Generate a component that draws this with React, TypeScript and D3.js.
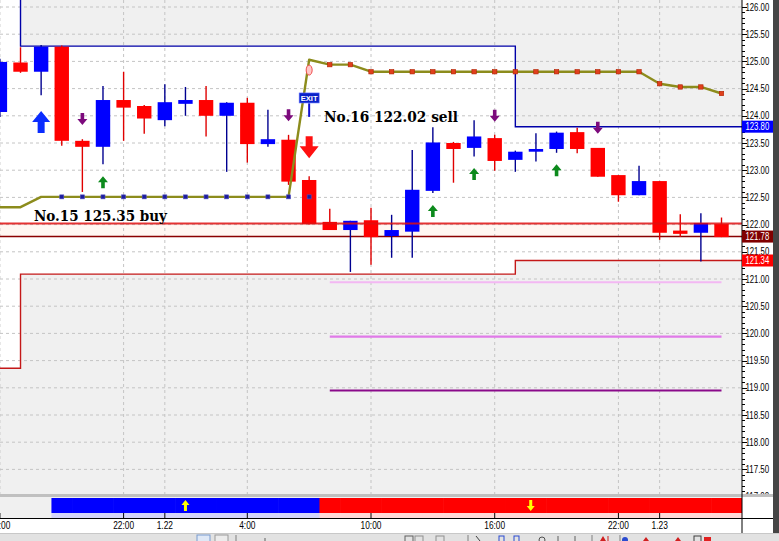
import React from 'react';
import * as d3 from 'd3';

// ---------- data ----------
const barIndex = d3.range(-1, 35);
const opens = [124.07,124.98,124.81,125.27,123.54,123.43,124.29,124.18,123.92,124.22,124.29,124.00,124.24,123.48,123.56,122.82,122.05,121.90,122.08,121.79,121.87,122.62,123.50,123.41,123.59,123.19,123.34,123.39,123.70,123.41,122.91,122.54,122.80,121.89,121.85,122.01];
const highs = [125.05,125.26,125.30,125.29,123.57,124.55,124.81,124.20,124.58,124.53,124.55,124.25,124.33,124.11,123.65,122.89,122.29,122.07,122.31,122.18,123.37,123.79,123.52,123.92,123.65,123.36,123.68,123.71,123.78,123.41,122.91,123.08,122.80,122.19,122.21,122.13];
const lows = [123.98,124.79,124.38,123.45,122.60,123.11,123.54,123.67,123.81,124.00,123.62,122.97,123.14,123.43,122.73,122.00,121.90,121.13,121.26,121.39,121.39,122.58,122.77,123.25,122.99,122.97,123.16,123.32,123.31,122.88,122.42,122.54,121.72,121.77,121.32,121.77];
const closes = [124.99,124.81,125.27,123.54,123.43,124.29,124.15,123.95,124.25,124.29,124.00,124.24,123.48,123.57,122.79,122.01,121.90,122.07,121.77,121.90,122.64,123.51,123.39,123.62,123.17,123.34,123.39,123.69,123.39,122.88,122.54,122.80,121.85,121.83,122.03,121.77];

// trailing stop line (olive) per bar
const stopLine = [122.32,122.32,122.51,122.51,122.51,122.51,122.51,122.51,122.51,122.51,122.51,122.51,122.51,122.51,122.51,125.03,124.94,124.94,124.81,124.81,124.81,124.81,124.81,124.81,124.81,124.81,124.81,124.81,124.81,124.81,124.81,124.81,124.59,124.53,124.53,124.41];
const lowerDotIndex = d3.range(2, 15);
const lowerDotLevel = 122.51;
const upperDotIndex = d3.range(15, 35);

// channel step lines (index -1..35)
const bandIndex = d3.range(-1, 36);
const upperBand = [
  126.6,
  125.28,125.28,125.28,125.28,125.28,125.28,125.28,125.28,125.28,125.28,125.28,125.28,
  125.28,125.28,125.28,125.28,125.28,125.28,125.28,125.28,125.28,125.28,125.28,125.28,
  123.80,123.80,123.80,123.80,123.80,123.80,123.80,123.80,123.80,123.80,123.80,123.80,
];
const lowerBand = [
  119.36,
  121.09,121.09,121.09,121.09,121.09,121.09,121.09,121.09,121.09,121.09,121.09,121.09,
  121.09,121.09,121.09,121.09,121.09,121.09,121.09,121.09,121.09,121.09,121.09,121.09,
  121.34,121.34,121.34,121.34,121.34,121.34,121.34,121.34,121.34,121.34,121.34,121.34,
];

// horizontal levels
const entryLevel = 122.02;
const exitLevel = 121.78;
const targetLevels = [120.94, 119.94, 118.95];
const targetColors = ['#f3b8f3', '#e07ae8', '#8a0a8a'];
const targetFrom = 15;
const targetTo = 34;

// arrows
const bigUpArrows = [{ i: 1, price: 124.09 }];
const bigDownArrows = [{ i: 14, price: 123.22 }];
const smallDownArrows = [{ i: 3, price: 123.83 }, { i: 13, price: 123.90 }, { i: 23, price: 123.89 }, { i: 28, price: 123.67 }];
const smallUpArrows = [{ i: 4, price: 122.89 }, { i: 20, price: 122.36 }, { i: 22, price: 123.04 }, { i: 26, price: 123.11 }];

// trade annotations
const tradeLabels = [
  { text: 'No.15 125.35 buy', i: 0.65, price: 122.07, len: 133 },
  { text: 'No.16 122.02 sell', i: 14.72, price: 123.89, len: 134 },
];
const exitBar = 14;

// signal panel (index -1..35)
const signalIndex = d3.range(-1, 36);
const signals = [
  0, 0, 0,
  1, 1, 1, 1, 1, 1, 1, 1, 1, 1, 1, 1, 1,
  -1, -1, -1, -1, -1, -1, -1, -1, -1, -1, -1, -1, -1, -1, -1, -1, -1, -1, -1, -1, -1,
];

// axes
const timeTicks = [
  { i: -1, label: '16:00' }, { i: 5, label: '22:00' }, { i: 7, label: '1.22' }, { i: 11, label: '4:00' },
  { i: 17, label: '10:00' }, { i: 23, label: '16:00' }, { i: 29, label: '22:00' }, { i: 31, label: '1.23' },
];
const priceTicks = d3.range(117, 126.01, 0.5);
const minorTicks = d3.range(117, 126.01, 0.1);
const priceTags = [
  { v: 123.80, bg: '#0000ff' },
  { v: 121.78, bg: '#800000' },
  { v: 121.34, bg: '#ff0000' },
];

// ---------- layout ----------
const W = 779, H = 541;
const PR = 742, PB = 494;
const FONT = 'Liberation Sans, Arial, sans-serif';

const txtLen = (s: string, d: number, p: number) =>
  s.split('').reduce((a, c) => a + (/[0-9]/.test(c) ? d : p), 0);

function upArrow(cx: number, tip: number, w: number, h: number, sw: number, hh: number) {
  return `M${cx},${tip} L${cx + w / 2},${tip + hh} L${cx + sw / 2},${tip + hh} L${cx + sw / 2},${tip + h} L${cx - sw / 2},${tip + h} L${cx - sw / 2},${tip + hh} L${cx - w / 2},${tip + hh} Z`;
}
function downArrow(cx: number, tip: number, w: number, h: number, sw: number, hh: number) {
  return `M${cx},${tip} L${cx + w / 2},${tip - hh} L${cx + sw / 2},${tip - hh} L${cx + sw / 2},${tip - h} L${cx - sw / 2},${tip - h} L${cx - sw / 2},${tip - hh} L${cx - w / 2},${tip - hh} Z`;
}

export default function App() {
  const x = d3.scaleLinear().domain([-1, 34]).range([-0.1, 721.5]);
  const y = d3.scaleLinear().domain([117.5, 126]).range([469.4, 7]);
  const step = x(1) - x(0);
  const bw = 14.4;

  const upperArea = d3.area<number>().x((_, k) => x(bandIndex[k])).y0(-5).y1((v) => y(v)).curve(d3.curveStepAfter);
  const lowerArea = d3.area<number>().x((_, k) => x(bandIndex[k])).y0(PB + 5).y1((v) => y(v)).curve(d3.curveStepAfter);
  const bandLine = d3.line<number>().x((_, k) => x(bandIndex[k])).y((v) => y(v)).curve(d3.curveStepAfter);
  const stopPath = d3.line<number>().x((_, k) => x(barIndex[k])).y((v) => y(v));

  const panelTop = 497, barTop = 498, barBot = 513, axisY = 518;

  const upIdx = signalIndex.filter((_, k) => signals[k] > 0);
  const dnIdx = signalIndex.filter((_, k) => signals[k] < 0);
  const upC = (x(d3.min(upIdx)!) + x(d3.max(upIdx)!)) / 2;
  const dnC = (x(d3.min(dnIdx)!) - step / 2 + PR) / 2;

  return (
    <svg width={W} height={H} style={{ position: 'fixed', left: 0, top: 0, background: '#fff' }} fontFamily={FONT}>
      <defs>
        <clipPath id="plot"><rect x={0} y={0} width={PR} height={PB} /></clipPath>
        <clipPath id="panel"><rect x={0} y={panelTop} width={PR} height={axisY - panelTop} /></clipPath>
      </defs>
      <rect x={0} y={0} width={W} height={H} fill="#fff" />

      <g clipPath="url(#plot)">
        {/* channel fills */}
        <path d={upperArea(upperBand) || ''} fill="#f0f0f0" />
        <path d={lowerArea(lowerBand) || ''} fill="#f0f0f0" />
        {/* pale band between entry and exit */}
        <rect x={0} y={y(entryLevel)} width={PR} height={y(exitLevel) - y(entryLevel)} fill="#fff7f2" />

        {/* grid */}
        {priceTicks.map((v) => (
          <line key={'g' + v} x1={0} x2={PR} y1={y(v)} y2={y(v)} stroke="#c4c4c4" strokeDasharray="3,3" strokeWidth={1} />
        ))}
        {timeTicks.map((t) => (
          <line key={'vg' + t.i} x1={x(t.i)} x2={x(t.i)} y1={0} y2={PB} stroke="#c4c4c4" strokeDasharray="3,3" strokeWidth={1} />
        ))}

        {/* channel lines */}
        <path d={bandLine(upperBand) || ''} fill="none" stroke="#0000a8" strokeWidth={1.4} />
        <path d={bandLine(lowerBand) || ''} fill="none" stroke="#c41818" strokeWidth={1.4} />

        {/* target levels */}
        {targetLevels.map((v, k) => (
          <line key={'t' + v} x1={x(targetFrom)} x2={x(targetTo)} y1={y(v)} y2={y(v)} stroke={targetColors[k]} strokeWidth={2.2} />
        ))}

        {/* exit level */}
        <line x1={0} x2={PR} y1={y(exitLevel)} y2={y(exitLevel)} stroke="#8a0000" strokeWidth={1.4} />

        {/* candles */}
        {barIndex.map((i, k) => {
          const o = opens[k], c = closes[k], h = highs[k], l = lows[k];
          const up = c >= o;
          const cx = x(i);
          const top = y(Math.max(o, c));
          const bot = y(Math.min(o, c));
          return (
            <g key={'c' + i}>
              <line x1={cx} x2={cx} y1={y(h)} y2={y(l)} stroke={up ? '#000090' : '#e00000'} strokeWidth={1.4} />
              <rect x={cx - bw / 2} y={top} width={bw} height={Math.max(bot - top, 2)} fill={up ? '#0000ff' : '#ff0000'} />
            </g>
          );
        })}

        {/* entry level (drawn over candles) */}
        <line x1={0} x2={PR} y1={y(entryLevel)} y2={y(entryLevel)} stroke="#e01010" strokeWidth={2} opacity={0.85} />

        {/* stop line */}
        <path d={stopPath(stopLine) || ''} fill="none" stroke="#8c8c1c" strokeWidth={2.4} strokeLinejoin="round" />
        {lowerDotIndex.map((i) => (
          <rect key={'ld' + i} x={x(i) - 2} y={y(lowerDotLevel) - 2} width={4} height={4} fill="#1c1c9c" stroke="#5050c0" strokeWidth={0.6} />
        ))}
        {upperDotIndex.map((i) => (
          <rect key={'ud' + i} x={x(i) - 2.2} y={y(stopLine[i + 1]) - 2.2} width={4.4} height={4.4} fill="#e0401c" stroke="#b02000" strokeWidth={0.6} />
        ))}
        <ellipse cx={x(exitBar)} cy={y(124.84)} rx={3} ry={5} fill="#ffc8c8" stroke="#f05050" strokeWidth={1} />

        {/* exit flag */}
        <line x1={x(exitBar)} x2={x(exitBar)} y1={y(124.23)} y2={y(123.98)} stroke="#1010d0" strokeWidth={2} />
        <rect x={x(exitBar) - 10} y={y(124.42)} width={20} height={10} fill="#0a22c8" stroke="#6070ff" strokeWidth={0.6} />
        <text x={x(exitBar)} y={y(124.42) + 8} fontSize={8} fill="#fff" fontWeight="bold" textAnchor="middle" textLength={17} lengthAdjust="spacingAndGlyphs">EXIT</text>

        {/* arrows */}
        {bigUpArrows.map((a) => (
          <path key={'bu' + a.i} d={upArrow(x(a.i), y(a.price), 18, 22, 7, 11)} fill="#0a2cff" />
        ))}
        {bigDownArrows.map((a) => (
          <path key={'bd' + a.i} d={downArrow(x(a.i), y(a.price), 19, 22, 7, 12)} fill="#ff1010" />
        ))}
        {smallDownArrows.map((a) => (
          <path key={'sd' + a.i} d={downArrow(x(a.i), y(a.price), 10, 12, 3.6, 6)} fill="#7c0a7c" />
        ))}
        {smallUpArrows.map((a) => (
          <path key={'su' + a.i} d={upArrow(x(a.i), y(a.price), 10, 12, 3.6, 6)} fill="#0c8a1c" />
        ))}

        {/* trade labels */}
        {tradeLabels.map((t) => (
          <text key={t.text} x={x(t.i)} y={y(t.price)} fontFamily="DejaVu Serif, serif" fontWeight="bold" fontSize={15}
            fill="#000" textLength={t.len} lengthAdjust="spacingAndGlyphs">{t.text}</text>
        ))}
      </g>

      {/* right price axis */}
      <line x1={PR} x2={PR} y1={0} y2={PB} stroke="#000" strokeWidth={1} />
      {minorTicks.map((v) => (
        <line key={'mt' + v.toFixed(1)} x1={PR} x2={PR + 3} y1={Math.round(y(v)) + 0.5} y2={Math.round(y(v)) + 0.5} stroke="#000" strokeWidth={1} />
      ))}
      {priceTicks.map((v) => (
        <line key={'pt' + v} x1={PR} x2={PR + 5} y1={Math.round(y(v)) + 0.5} y2={Math.round(y(v)) + 0.5} stroke="#000" strokeWidth={1} />
      ))}
      {priceTicks.map((v) => {
        const s = v.toFixed(2);
        return (
          <text key={'pl' + v} x={PR + 3.5} y={y(v)} dy="0.36em" fontSize={10} fill="#000"
            textLength={txtLen(s, 4.3, 2.2)} lengthAdjust="spacingAndGlyphs">{s}</text>
        );
      })}
      {priceTags.map((t) => {
        const s = t.v.toFixed(2);
        return (
          <g key={'tag' + s}>
            <rect x={PR} y={y(t.v) - 6} width={31} height={12} fill={t.bg} />
            <text x={PR + 3.5} y={y(t.v)} dy="0.36em" fontSize={10} fill="#fff"
              textLength={txtLen(s, 4.3, 2.2)} lengthAdjust="spacingAndGlyphs">{s}</text>
          </g>
        );
      })}

      {/* panel separator */}
      <rect x={0} y={PB} width={773} height={panelTop - PB} fill="#c0c0c0" />
      <rect x={0} y={panelTop} width={PR} height={axisY - panelTop} fill="#f0f0f0" />
      <rect x={PR} y={panelTop} width={773 - PR} height={axisY - panelTop} fill="#fff" />

      {/* signal panel */}
      <g clipPath="url(#panel)">
        {signalIndex.map((i, k) => {
          const s = signals[k];
          if (s === 0) return null;
          const x0 = x(i) - step / 2;
          return (
            <g key={'s' + i}>
              <rect x={x0} y={barTop} width={step + 0.6} height={barBot - barTop} fill={s > 0 ? '#0000ff' : '#ff0000'} />
              <rect x={x0} y={barBot} width={step + 0.6} height={axisY - barBot} fill={s > 0 ? '#d4d4fa' : '#ffd8d8'} />
            </g>
          );
        })}
        <path d={upArrow(upC, 500, 8, 11, 3, 5)} fill="#ffff00" />
        <path d={downArrow(dnC, 511, 8, 11, 3, 5)} fill="#ffff00" />
      </g>
      <line x1={PR} x2={PR} y1={PB} y2={533} stroke="#000" strokeWidth={1} />

      {/* time axis */}
      <line x1={0} x2={773} y1={axisY + 0.5} y2={axisY + 0.5} stroke="#000" strokeWidth={1} />
      {timeTicks.map((t) => (
        <g key={'tt' + t.i}>
          <line x1={x(t.i)} x2={x(t.i)} y1={axisY - 5} y2={axisY} stroke="#000" strokeWidth={1} />
          <text x={x(t.i)} y={529} fontSize={10} fill="#000" textAnchor="middle"
            textLength={txtLen(t.label, 4.6, 2.5)} lengthAdjust="spacingAndGlyphs">{t.label}</text>
        </g>
      ))}

      {/* toolbar strip */}
      <rect x={0} y={533} width={779} height={8} fill="#e2e2e2" />
      <line x1={0} x2={779} y1={533.5} y2={533.5} stroke="#c8c8c8" />
      <rect x={197} y={535} width={13} height={7} fill="#dfe8f6" stroke="#7a9cd0" />
      <rect x={215} y={535} width={13} height={7} fill="#ececec" stroke="#9a9a9a" />
      <line x1={236} x2={236} y1={535} y2={541} stroke="#808080" />
      <line x1={265} x2={265} y1={538} y2={541} stroke="#606060" />
      <rect x={405} y={536} width={8} height={6} fill="none" stroke="#606060" />
      <rect x={415} y={536} width={8} height={6} fill="none" stroke="#909090" />
      <rect x={436} y={536} width={8} height={6} fill="none" stroke="#909090" />
      <line x1={468} x2={468} y1={535} y2={541} stroke="#808080" />
      <path d="M476,536 l4,5" stroke="#404040" fill="none" />
      <rect x={499} y={536} width={5} height={6} fill="none" stroke="#2a4ad0" />
      <rect x={514} y={536} width={5} height={6} fill="none" stroke="#2a4ad0" />
      <circle cx={542} cy={540} r={3} fill="none" stroke="#505050" />
      <line x1={558} x2={558} y1={536} y2={541} stroke="#606060" />
      <line x1={575} x2={575} y1={536} y2={541} stroke="#606060" />
      <line x1={592} x2={592} y1={535} y2={541} stroke="#808080" />
      <path d="M600,541 l3,-5 l3,5" fill="#d02020" />
      <line x1={608} x2={608} y1={536} y2={541} stroke="#d02020" />
      <line x1={620} x2={620} y1={535} y2={541} stroke="#808080" />
      <circle cx={625} cy={540} r={3} fill="#2a4ad0" />
      <path d="M643,541 l3,-4 l3,4" fill="#d02020" />
      <path d="M675,541 l3,-4 l3,4" fill="#d02020" />
      <rect x={694} y={536} width={7} height={6} fill="none" stroke="#404040" />
      <rect x={704} y={537} width={7} height={5} fill="#e02020" />

      {/* right window edge */}
      <rect x={773} y={0} width={6} height={533} fill="#454545" />
    </svg>
  );
}
